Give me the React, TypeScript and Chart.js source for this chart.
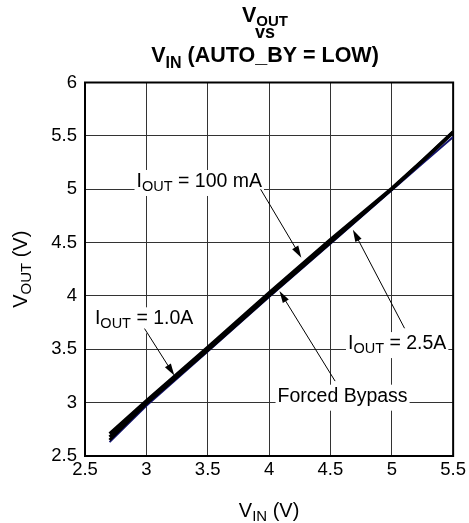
import React, { useEffect, useRef } from "react";
import { Chart, registerables } from "chart.js";

Chart.register(...registerables);

// ---------- data ----------
const vin = [2.7, 3.0, 3.5, 4.0, 4.5, 5.0, 5.25, 5.5];
const vout100mA = [2.71, 3.02, 3.52, 4.03, 4.53, 5.01, 5.27, 5.54];
const vout1A = [2.68, 3.0, 3.51, 4.01, 4.51, 5.0, 5.265, 5.535];
const voutBypass = [2.65, 2.99, 3.49, 4.0, 4.5, 5.0, 5.26, 5.53];
const vout25A = [2.63, 2.97, 3.48, 3.99, 4.49, 4.99, 5.24, 5.49];

const xTicks = [2.5, 3, 3.5, 4, 4.5, 5, 5.5];
const yTicks = [2.5, 3, 3.5, 4, 4.5, 5, 5.5, 6];

type Part = { t: string; sub?: boolean };

const titleLine1: Part[] = [{ t: "V" }, { t: "OUT", sub: true }];
const titleLine2: Part[] = [{ t: "vs" }];
const titleLine3: Part[] = [{ t: "V" }, { t: "IN", sub: true }, { t: " (AUTO_BY = LOW)" }];
const xTitle: Part[] = [{ t: "V" }, { t: "IN", sub: true }, { t: " (V)" }];
const yTitle: Part[] = [{ t: "V" }, { t: "OUT", sub: true }, { t: " (V)" }];

// annotations in data coordinates
const annotations = [
  {
    parts: [{ t: "I" }, { t: "OUT", sub: true }, { t: " = 100 mA" }] as Part[],
    x: 2.92, y: 5.021, tail: [3.931, 5.0], head: [4.263, 4.358],
  },
  {
    parts: [{ t: "I" }, { t: "OUT", sub: true }, { t: " = 1.0A" }] as Part[],
    x: 2.581, y: 3.734, tail: [2.985, 3.694], head: [3.228, 3.254],
  },
  {
    parts: [{ t: "I" }, { t: "OUT", sub: true }, { t: " = 2.5A" }] as Part[],
    x: 4.643, y: 3.502, tail: [5.104, 3.697], head: [4.683, 4.621],
  },
  {
    parts: [{ t: "Forced Bypass" }] as Part[],
    x: 4.069, y: 3.009, tail: [4.538, 3.202], head: [4.085, 4.046],
  },
];

const FAMILY = "'Liberation Sans', Arial, Helvetica, sans-serif";

function richWidth(ctx: CanvasRenderingContext2D, parts: Part[], F: number, f: number, weight: string) {
  let w = 0;
  for (const p of parts) {
    ctx.font = `${weight} ${p.sub ? f : F}px ${FAMILY}`;
    w += ctx.measureText(p.t).width;
  }
  return w;
}

function drawRich(
  ctx: CanvasRenderingContext2D,
  parts: Part[],
  x: number,
  y: number,
  F: number,
  f: number,
  off: number,
  weight: string,
  align: "left" | "center"
) {
  const w = richWidth(ctx, parts, F, f, weight);
  let cx = align === "center" ? x - w / 2 : x;
  ctx.textBaseline = "alphabetic";
  ctx.textAlign = "left";
  for (const p of parts) {
    ctx.font = `${weight} ${p.sub ? f : F}px ${FAMILY}`;
    ctx.fillText(p.t, cx, p.sub ? y + off : y);
    cx += ctx.measureText(p.t).width;
  }
  return w;
}

const overlayPlugin = {
  id: "overlay",
  beforeDatasetsDraw(chart: any) {
    const { ctx, chartArea } = chart;
    ctx.save();
    ctx.strokeStyle = "#000";
    ctx.lineWidth = 2;
    ctx.strokeRect(chartArea.left, chartArea.top, chartArea.right - chartArea.left, chartArea.bottom - chartArea.top);
    ctx.restore();
  },
  afterDatasetsDraw(chart: any) {
    const { ctx } = chart;
    const xs = chart.scales.x;
    const ys = chart.scales.y;
    ctx.save();
    for (const a of annotations) {
      const px = xs.getPixelForValue(a.x);
      const py = ys.getPixelForValue(a.y);
      const w = richWidth(ctx, a.parts, 19.5, 14.5, "normal");
      ctx.fillStyle = "#fff";
      ctx.fillRect(px - 2, py - 17, w + 4, 26);
      ctx.fillStyle = "#000";
      drawRich(ctx, a.parts, px, py, 19.5, 14.5, 4, "normal", "left");
      const tx = xs.getPixelForValue(a.tail[0]);
      const ty = ys.getPixelForValue(a.tail[1]);
      const hx = xs.getPixelForValue(a.head[0]);
      const hy = ys.getPixelForValue(a.head[1]);
      const ang = Math.atan2(hy - ty, hx - tx);
      const L = 12;
      const H = 3.5;
      ctx.strokeStyle = "#000";
      ctx.lineWidth = 1;
      ctx.beginPath();
      ctx.moveTo(tx, ty);
      ctx.lineTo(hx - Math.cos(ang) * L * 0.8, hy - Math.sin(ang) * L * 0.8);
      ctx.stroke();
      ctx.beginPath();
      ctx.moveTo(hx, hy);
      ctx.lineTo(hx - Math.cos(ang) * L - Math.sin(ang) * H, hy - Math.sin(ang) * L + Math.cos(ang) * H);
      ctx.lineTo(hx - Math.cos(ang) * L + Math.sin(ang) * H, hy - Math.sin(ang) * L - Math.cos(ang) * H);
      ctx.closePath();
      ctx.fill();
    }
    ctx.restore();
  },
  afterDraw(chart: any) {
    const { ctx, chartArea } = chart;
    ctx.save();
    ctx.fillStyle = "#000";
    const tc = 265;
    drawRich(ctx, titleLine1, tc, 22, 21.5, 15, 4, "bold", "center");
    drawRich(ctx, titleLine2, tc, 37.5, 18, 14, 0, "bold", "center");
    drawRich(ctx, titleLine3, tc, 62, 21.5, 16, 6, "bold", "center");
    // x axis title
    const xc = (chartArea.left + chartArea.right) / 2;
    drawRich(ctx, xTitle, xc, 517, 20, 15, 4, "normal", "center");
    // y axis title
    ctx.translate(27, (chartArea.top + chartArea.bottom) / 2);
    ctx.rotate(-Math.PI / 2);
    drawRich(ctx, yTitle, 0, 0, 20, 15, 4, "normal", "center");
    ctx.restore();
  },
};

const fmt = (v: any) => String(Math.round(Number(v) * 10) / 10);

export default function App() {
  const ref = useRef<HTMLCanvasElement | null>(null);
  useEffect(() => {
    document.body.style.margin = "0";
    const canvas = ref.current!;
    const mk = (ys: number[]) => vin.map((x, i) => ({ x, y: ys[i] }));
    const chart = new Chart(canvas, {
      type: "line",
      data: {
        datasets: [
          { label: "IOUT = 100 mA", data: mk(vout100mA), borderColor: "#000", borderWidth: 3, pointRadius: 0, tension: 0 },
          { label: "IOUT = 1.0A", data: mk(vout1A), borderColor: "#000", borderWidth: 3, pointRadius: 0, tension: 0 },
          { label: "Forced Bypass", data: mk(voutBypass), borderColor: "#000", borderWidth: 3, pointRadius: 0, tension: 0 },
          { label: "IOUT = 2.5A", data: mk(vout25A), borderColor: "#14146e", borderWidth: 2, pointRadius: 0, tension: 0 },
        ],
      },
      options: {
        animation: false,
        responsive: false,
        devicePixelRatio: 1,
        layout: { padding: { left: 0, right: 13, top: 82.5, bottom: 0 } },
        plugins: { legend: { display: false }, tooltip: { enabled: false }, title: { display: false } },
        scales: {
          x: {
            type: "linear",
            min: 2.5,
            max: 5.5,
            afterBuildTicks: (s: any) => { s.ticks = xTicks.map((v) => ({ value: v })); },
            afterFit: (s: any) => { s.height = 67; },
            grid: { color: "#333", lineWidth: 1, drawTicks: false },
            border: { display: false },
            ticks: { padding: 3, color: "#000", font: { family: FAMILY, size: 18.5 }, callback: fmt },
          },
          y: {
            type: "linear",
            min: 2.5,
            max: 6,
            afterBuildTicks: (s: any) => { s.ticks = yTicks.map((v) => ({ value: v })); },
            afterFit: (s: any) => { s.width = 85; },
            grid: { color: "#333", lineWidth: 1, drawTicks: false },
            border: { display: false },
            ticks: { padding: 8, color: "#000", font: { family: FAMILY, size: 18.5 }, callback: fmt },
          },
        },
      },
      plugins: [overlayPlugin],
    } as any);
    return () => chart.destroy();
  }, []);
  return (
    <div style={{ width: 469, height: 523, background: "#fff" }}>
      <canvas ref={ref} width={469} height={523} />
    </div>
  );
}
